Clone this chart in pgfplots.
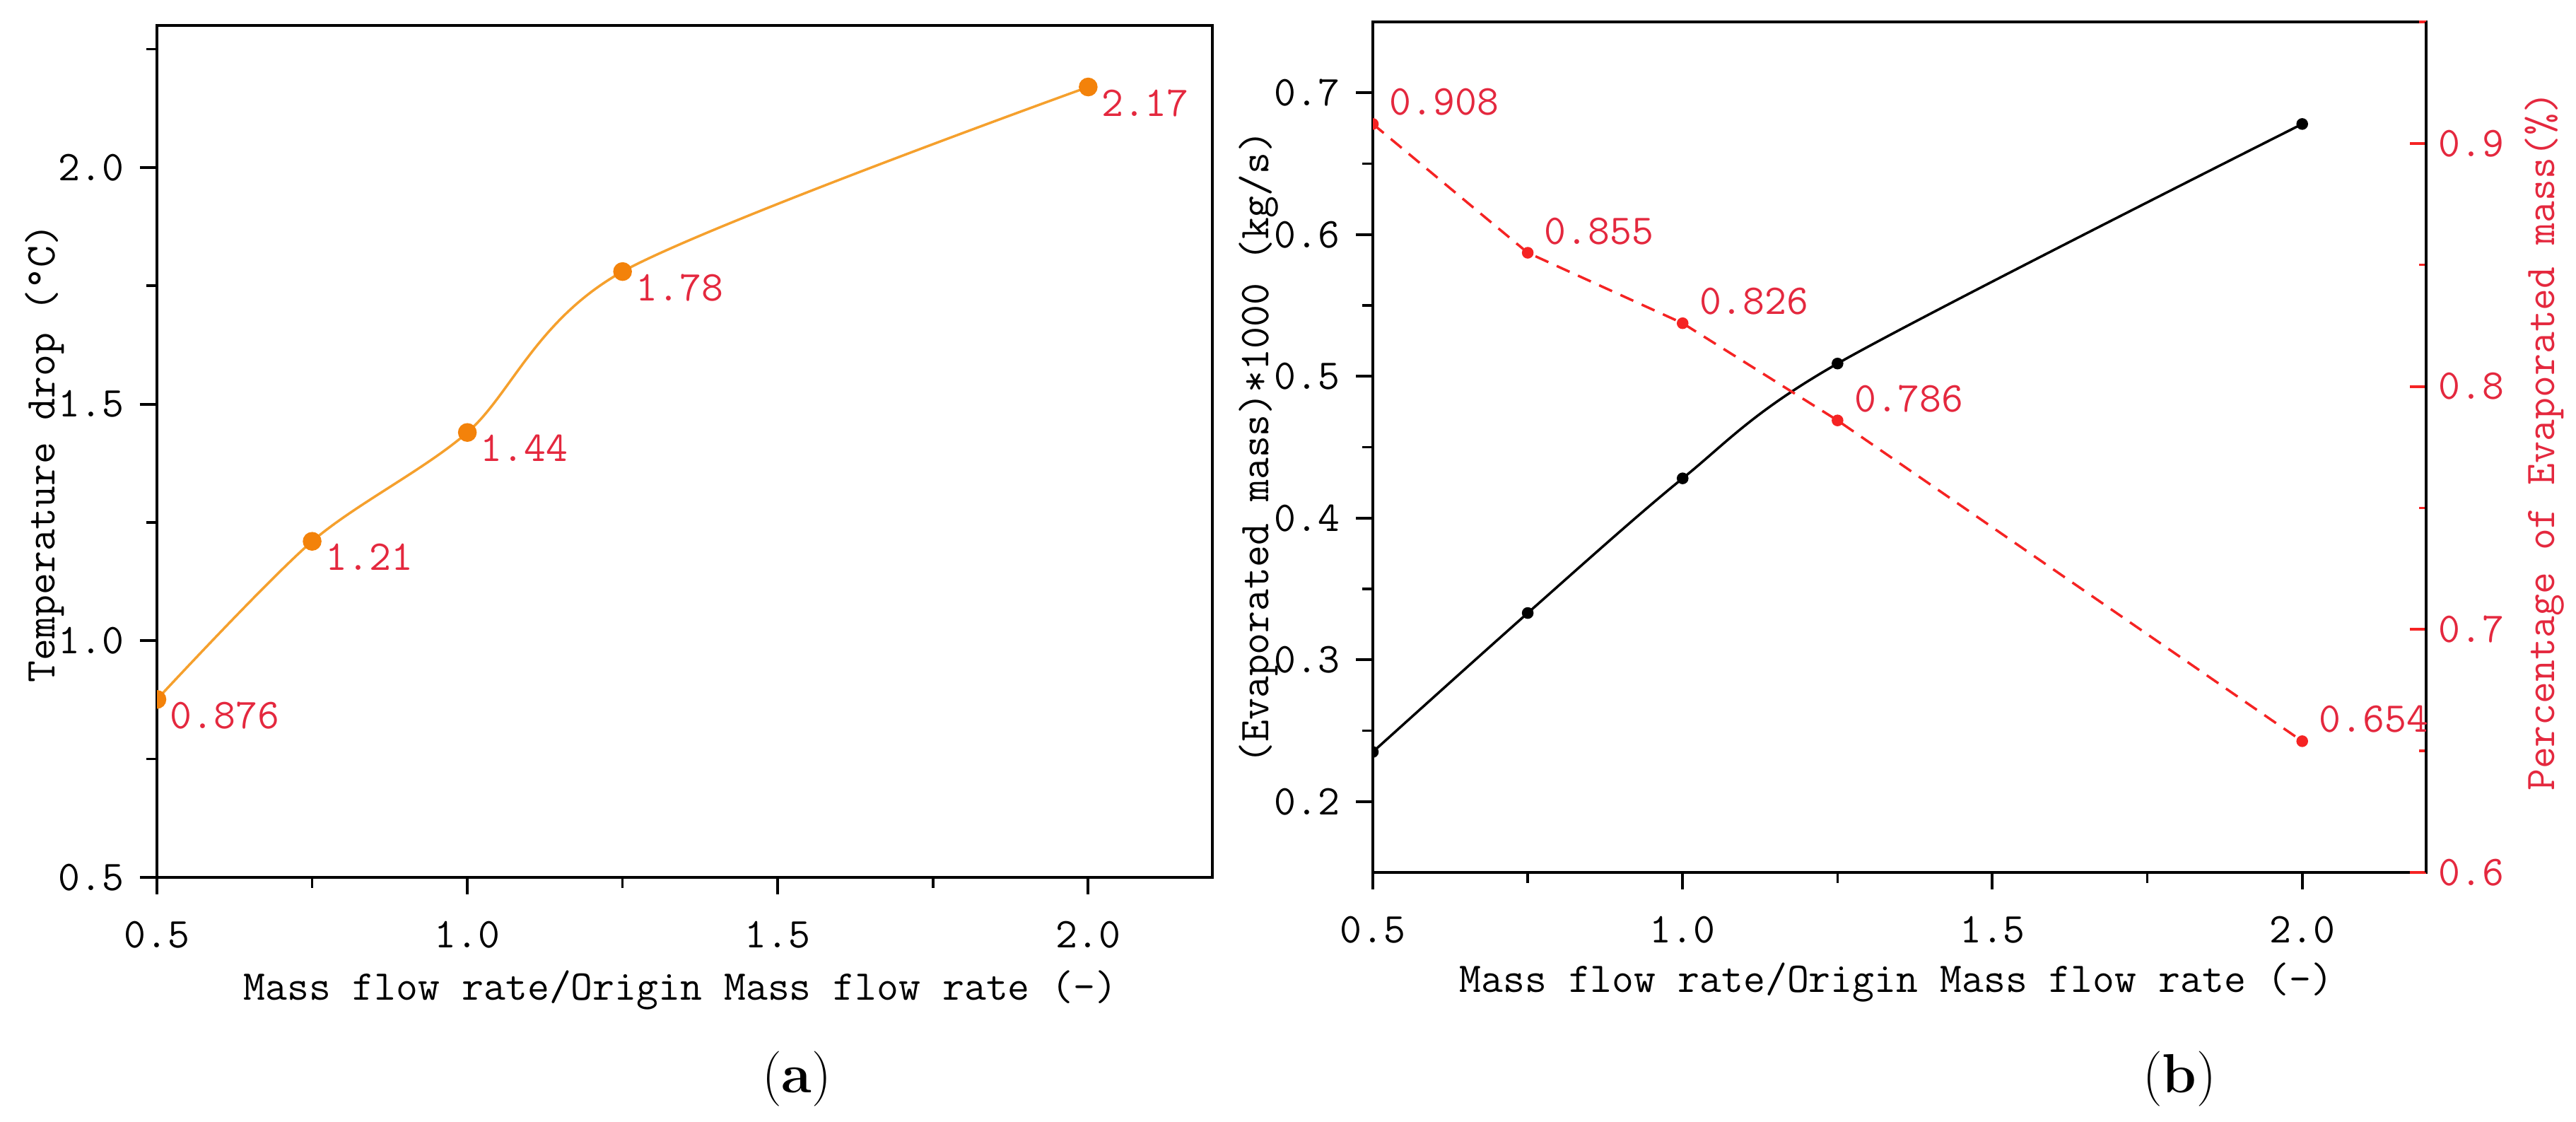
\documentclass[border=0pt]{standalone}
\usepackage{pgfplots}
\pgfplotsset{compat=1.18}
\definecolor{orangeline}{RGB}{245,160,45}
\definecolor{orangemark}{RGB}{243,130,10}
\definecolor{lblred}{RGB}{228,40,62}
\definecolor{redline}{RGB}{245,35,35}
\newcommand\cf{\fontsize{12}{14}\selectfont\ttfamily}

\pgfplotstableread{
x y
0.5 0.876
0.75 1.21
1.0 1.44
1.25 1.78
2.0 2.17
}\tempdrop
\pgfplotstableread{
x y
0.5 0.235
0.75 0.333
1.0 0.428
1.25 0.509
2.0 0.678
}\evapmass
\pgfplotstableread{
x y
0.5 0.908
0.75 0.855
1.0 0.826
1.25 0.786
2.0 0.654
}\evappct

\begin{document}
\begin{tikzpicture}
\path[use as bounding box] (0,0) rectangle (728.8pt,-317.4pt);
\pgfplotsset{
 common/.style={
  scale only axis, anchor=south west,
  xmin=0.5, xmax=2.2,
  xtick={0.5,1,1.5,2}, minor xtick={0.75,1.25,1.75},
  tick align=outside, tick pos=left,
  major tick length=4.8pt, minor tick length=3pt,
  major tick style={black, line width=0.8pt},
  minor tick style={black, line width=0.7pt},
  axis line style={line width=0.8pt},
  /pgf/number format/assume math mode=true,
  tick label style={font=\cf},
  label style={font=\cf},
  xticklabel style={yshift=-4pt, /pgf/number format/.cd, fixed, fixed zerofill, precision=1},
  yticklabel style={xshift=-1pt, /pgf/number format/.cd, fixed, fixed zerofill, precision=1},
  clip marker paths=true,
 }
}
% ---------- panel (a)
\begin{axis}[common, at={(44.4pt,-248.2pt)}, width=298.6pt, height=241pt,
  ymin=0.5, ymax=2.3, ytick={0.5,1,1.5,2}, minor ytick={0.75,1.25,1.75,2.25},
  xlabel={Mass flow rate/Origin Mass flow rate (-)},
  ylabel={Temperature drop (\textdegree C)},
  x label style={at={(axis description cs:0.496,-0.1444)}, anchor=base},
  y label style={at={(axis description cs:-0.0965,0.498)}, anchor=base},
]
\addplot[orangeline, line width=0.7pt, smooth, mark=*, mark size=2.3pt,
  mark options={fill=orangemark, draw=orangemark},
  nodes near coords, point meta=explicit symbolic,
  nodes near coords align={anchor=north west},
  every node near coord/.append style={font=\cf, text=lblred, inner sep=0pt, anchor=north west, xshift=3.4pt, yshift=-0.4pt}]
  table[x=x, y=y, meta=y] {\tempdrop};
\end{axis}
% ---------- panel (b) left axis
\begin{axis}[common, at={(388.4pt,-246.8pt)}, width=298pt, height=240.6pt,
  ymin=0.15, ymax=0.75, ytick={0.2,0.3,0.4,0.5,0.6,0.7}, minor ytick={0.25,0.35,0.45,0.55,0.65},
  xlabel={Mass flow rate/Origin Mass flow rate (-)},
  ylabel={(Evaporated mass)*1000 (kg/s)},
  x label style={at={(axis description cs:0.497,-0.1413)}, anchor=base},
  y label style={at={(axis description cs:-0.0987,0.5)}, anchor=base},
]
\addplot[black, line width=0.7pt, smooth, mark=*, mark size=1.3pt]
  table[x=x, y=y] {\evapmass};
\end{axis}
% ---------- panel (b) right axis
\begin{axis}[scale only axis, anchor=south west, at={(388.4pt,-246.8pt)}, width=298pt, height=240.6pt,
  xmin=0.5, xmax=2.2, hide x axis,
  axis y line*=right,
  ymin=0.6, ymax=0.95, ytick={0.6,0.7,0.8,0.9}, minor ytick={0.65,0.75,0.85,0.95},
  tick align=inside, major tick length=4.6pt, minor tick length=2pt,
  major tick style={redline, line width=0.8pt},
  minor tick style={redline, line width=0.7pt},
  axis line style={line width=0.8pt, black},
  /pgf/number format/assume math mode=true,
  tick label style={font=\cf, text=lblred},
  yticklabel style={/pgf/number format/.cd, fixed, fixed zerofill, precision=1},
  ylabel={Percentage of Evaporated mass(\%)},
  y label style={font=\cf, text=lblred, at={(axis description cs:1.1215,0.5067)}, anchor=base, rotate=0},
  clip marker paths=true,
]
\addplot[redline, line width=0.7pt, dash pattern=on 4pt off 2.6pt, mark=*, mark size=1.3pt,
  mark options={solid, fill=redline},
  nodes near coords, point meta=explicit symbolic,
  nodes near coords align={anchor=south west},
  every node near coord/.append style={font=\cf, text=lblred, inner sep=0pt, anchor=south west, xshift=4.4pt, yshift=2pt}]
  table[x=x, y=y, meta=y] {\evappct};
\end{axis}
% ---------- panel labels
\node[font=\fontsize{15.6}{18}\selectfont, anchor=base] at (225.4pt,-309.2pt) {(\textbf{a})};
\node[font=\fontsize{15.6}{18}\selectfont, anchor=base] at (616.6pt,-309.2pt) {(\textbf{b})};
\end{tikzpicture}
\end{document}
